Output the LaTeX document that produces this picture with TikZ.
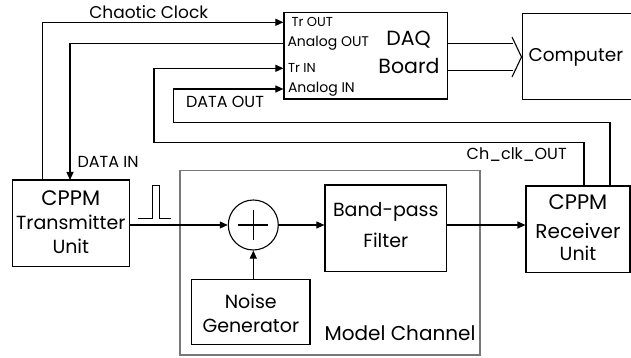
\documentclass[tikz,border=0pt]{standalone}
\usepackage{fontspec}
\setmainfont{Poppins}
\usepackage{tikz}
\usetikzlibrary{arrows.meta,positioning,calc}
\definecolor{chan-gray}{RGB}{120,120,120}

\begin{document}
\begin{tikzpicture}[x=1pt, y=-1pt, line width=1.1pt,
  every node/.style={inner sep=0pt, font=\fontsize{19}{21}\selectfont},
  blk/.style={draw, rectangle, align=center},
  port/.style={anchor=west, font=\fontsize{14}{16}\selectfont},
  lbl/.style={font=\fontsize{16}{18}\selectfont},
  sig/.style={-{Triangle[length=8pt,width=7pt]}}]
  \useasboundingbox (0,0) rectangle (631,358);

  % Model channel frame
  \draw[chan-gray] (180,170.7) rectangle (480,355);
  \node[font=\fontsize{20}{22}\selectfont, anchor=east] (mclbl) at (476,333) {Model Channel};

  % Boxes
  \node[blk, minimum width=117pt, minimum height=86.7pt] (tx) at (70.8,223.3) {};
  \node[font=\fontsize{21}{23}\selectfont] (txa) at (70.8,198) {CPPM};
  \node (txb) at (70.8,222.5) {Transmitter};
  \node (txc) at (70.8,246.5) {Unit};

  \node[blk, minimum width=104pt, minimum height=86.7pt] (rx) at (578,229.3) {};
  \node[font=\fontsize{21}{23}\selectfont] (rxa) at (578,202) {CPPM};
  \node[font=\fontsize{20}{22}\selectfont] (rxb) at (578,231) {Receiver};
  \node (rxc) at (578,253.5) {Unit};

  \node[blk, minimum width=121.7pt, minimum height=86.7pt] (bpf) at (385.8,228.3) {};
  \node (bpfa) at (385.8,212) {Band-pass};
  \node (bpfb) at (385.8,240) {Filter};

  \node[blk, minimum width=118.3pt, minimum height=64.7pt] (noise) at (250.8,311.7) {};
  \node (noisea) at (250.8,301.5) {Noise};
  \node (noiseb) at (250.8,325.5) {Generator};

  \node[draw, circle, minimum size=50pt] (sum) at (253.3,225) {};
  \draw (sum.center) ++(-15,0) -- ++(30,0);
  \draw (sum.center) ++(0,-15) -- ++(0,30);

  \node[blk, minimum width=163.7pt, minimum height=86.7pt] (daq) at (365.8,55.7) {};
  \node[font=\fontsize{20.5}{22}\selectfont] (daqa) at (408.5,40) {DAQ};
  \node[font=\fontsize{20.5}{22}\selectfont] (daqb) at (409,66) {Board};
  \node[port, font=\fontsize{13}{15}\selectfont] (p1) at (291,22.3) {Tr OUT};
  \node[port] (p2) at (287,43.3) {Analog OUT};
  \node[port, font=\fontsize{13}{15}\selectfont] (p3) at (287.5,68.3) {Tr IN};
  \node[port] (p4) at (287.5,89) {Analog IN};

  \node[blk, anchor=north west, minimum width=130pt, minimum height=86pt] (pc) at (521.7,13.3) {};
  \node[font=\fontsize{18.5}{20}\selectfont, anchor=west] (pca) at (528,57) {Computer};

  % DAQ to computer bus
  \draw ($(daq.east)+(0,-12.4)$) -- (512.5,43.3);
  \draw ($(daq.east)+(0,15)$) -- (512.5,70.7);
  \draw (512,37) -- (521.5,57) -- (512,77);

  % Signal chain
  \draw[sig] (tx.east |- sum.west) -- (sum.west);
  \draw[sig] (sum.east) -- (bpf.west |- sum.east);
  \draw[sig] (bpf.east |- sum.east) -- (rx.west |- sum.east);
  \draw[sig] (noise.north -| sum.south) -- (sum.south);
  \draw[line width=0.9pt] (138,218.3) -- (152.7,218.3) -- (152.7,185) -- (159,185) -- (159,218.3) -- (170.7,218.3);

  % Chaotic clock
  \coordinate (cc) at (42.3,180);
  \draw[sig] (cc) |- (daq.west |- p1);
  \node[lbl, font=\fontsize{17}{19}\selectfont] (cclbl) at (148.7,11.7) {Chaotic Clock};

  % Data in
  \coordinate (din) at (70,180);
  \draw[sig] (daq.west |- p2) -| (din);
  \node[lbl, anchor=west] (dinlbl) at (77,162) {DATA IN};

  % Ch_clk_OUT loop
  \coordinate (rc) at (584,186);
  \draw[sig] (rc) |- (154,142.3) |- (daq.west |- p3);
  \node[lbl] (rclbl) at (516.7,155) {Ch\_clk\_OUT};

  % Data out loop
  \coordinate (rd) at (610,186);
  \draw[sig] (rd) |- (173.3,122.3) |- (daq.west |- p4);
  \node[lbl] (doutlbl) at (225,102) {DATA OUT};
\end{tikzpicture}
\end{document}
